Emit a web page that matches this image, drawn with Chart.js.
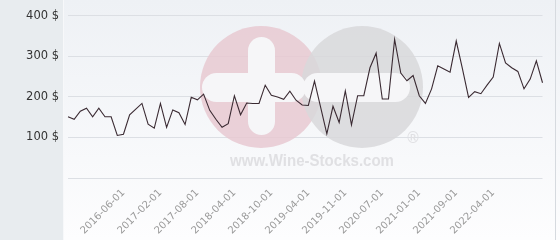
<!DOCTYPE html>
<html>
<head>
<meta charset="utf-8">
<script src="https://cdn.jsdelivr.net/npm/chart.js@4"></script>
<style>
html,body{margin:0;padding:0;background:#fff;}
#wrap{width:560px;height:240px;position:relative;}
</style>
</head>
<body>
<div id="wrap"><canvas id="c" width="560" height="240"></canvas></div>
<script>
// Price series (USD), one value per sale date
const prices = [151,145,165,172,151,172,151,151,105,108,156,170,184,133,123,184,125,168,161,132,
  199,193,207,167,145,125,134,203,156,185,184,184,229,204,200,194,214,192,180,179,
  239,174,109,177,137,215,131,203,203,272,308,195,195,342,259,240,253,203,184,220,
  277,269,261,338,270,199,213,208,229,249,332,284,272,263,220,244,289,235];
// Dates shown on the x axis and the point index where each appears
const tickLabels = ['2016-06-01','2017-02-01','2017-08-01','2018-04-01','2018-10-01','2019-04-01',
  '2019-11-01','2020-07-01','2021-01-01','2021-09-01','2022-04-01'];
const tickIndex = [9,15,21,27,33,39,45,51,57,63,69];
const yTicks = [0,100,200,300,400];

const categories = prices.map((_, i) => {
  const k = tickIndex.indexOf(i);
  return k >= 0 ? tickLabels[k] : '';
});

const bgPlugin = {
  id: 'bg',
  beforeDraw(chart) {
    const ctx = chart.ctx, W = chart.width, H = chart.height;
    ctx.save();
    const g = ctx.createLinearGradient(0, 0, 0, H);
    g.addColorStop(0, '#eef1f5');
    g.addColorStop(1, '#fdfdfe');
    ctx.fillStyle = g;
    ctx.fillRect(0, 0, W, H);
    ctx.fillStyle = '#e8ecef';
    ctx.fillRect(0, 0, 63, H);
    ctx.fillStyle = '#f7f8fa';
    ctx.fillRect(63, 0, 1, H);
    ctx.fillStyle = '#d6dadf';
    ctx.fillRect(555, 0, 1, H);
    ctx.restore();
  },
  beforeDatasetsDraw(chart) {
    const ctx = chart.ctx;
    ctx.save();
    ctx.globalAlpha = 0.85;
    // pink circle with plus
    ctx.fillStyle = '#e8c9d1';
    ctx.beginPath(); ctx.arc(261, 87, 61, 0, Math.PI * 2); ctx.fill();
    // gray circle with minus
    ctx.fillStyle = '#d8d8db';
    ctx.beginPath(); ctx.arc(362, 87, 61, 0, Math.PI * 2); ctx.fill();
    ctx.globalAlpha = 1;
    ctx.fillStyle = '#f6f6f8';
    const rr = (x, y, w, h, r) => { ctx.beginPath(); ctx.roundRect(x, y, w, h, r); ctx.fill(); };
    rr(248, 37, 27, 98, 13.5);
    rr(202, 73, 104, 29, 14.5);
    rr(303, 73, 107, 29, 14.5);
    ctx.fillStyle = '#e0e0e3';
    ctx.font = 'bold 16px "Liberation Sans", Arial, sans-serif';
    ctx.textAlign = 'center';
    ctx.textBaseline = 'middle';
    const t = 'www.Wine-Stocks.com';
    const w = ctx.measureText(t).width;
    ctx.save();
    ctx.translate(312, 162);
    ctx.scale(164 / w, 1);
    ctx.fillText(t, 0, 0);
    ctx.restore();
    ctx.font = '15px "DejaVu Sans", sans-serif';
    ctx.fillText('®', 413, 139);
    ctx.restore();
  }
};

new Chart(document.getElementById('c'), {
  type: 'line',
  data: {
    labels: categories,
    datasets: [{
      data: prices,
      borderColor: '#3a2a32',
      borderWidth: 1.1,
      pointRadius: 0,
      tension: 0,
      fill: false
    }]
  },
  options: {
    responsive: false,
    animation: false,
    devicePixelRatio: 1,
    layout: { padding: { left: 0, right: 5, top: 11, bottom: 0 } },
    plugins: { legend: { display: false }, tooltip: { enabled: false } },
    scales: {
      x: {
        offset: false,
        grid: { display: false, drawTicks: false },
        border: { display: false },
        ticks: {
          autoSkip: false,
          minRotation: 45,
          maxRotation: 45,
          padding: 9,
          color: '#9a9a9a',
          font: { family: '"DejaVu Sans", sans-serif', size: 10 }
        },
        afterFit(s) { s.height = 62; }
      },
      y: {
        min: 0,
        max: 400,
        afterBuildTicks(s) { s.ticks = yTicks.map(v => ({ value: v })); },
        grid: { color: '#dcdfe4', drawTicks: false, lineWidth: 1 },
        border: { display: false },
        ticks: {
          padding: 9,
          color: '#333333',
          font: { family: '"DejaVu Sans", sans-serif', size: 11.5 },
          callback: v => v === 0 ? '' : v + ' $'
        },
        afterFit(s) { s.width = 68; }
      }
    }
  },
  plugins: [bgPlugin]
});
</script>
</body>
</html>
